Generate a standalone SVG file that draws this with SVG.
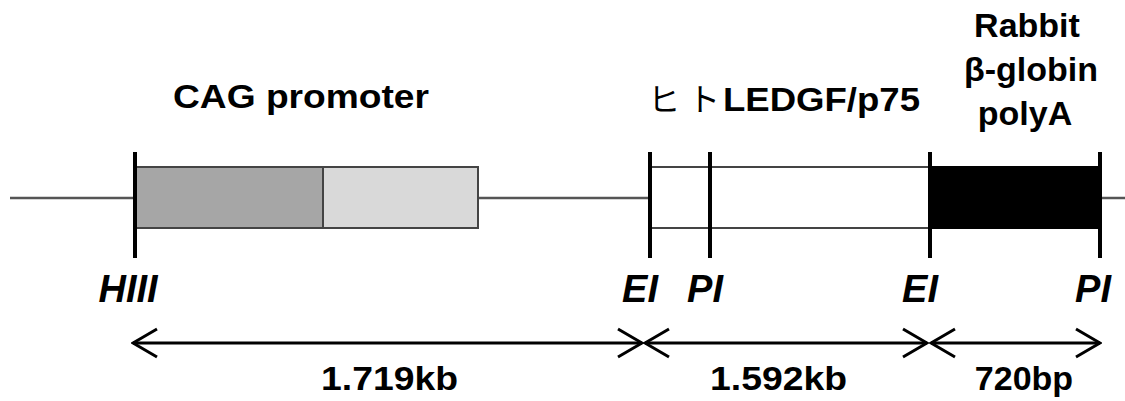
<svg xmlns="http://www.w3.org/2000/svg" width="1125" height="401" viewBox="0 0 1125 401">
<style>
.lbl{font-family:"Liberation Sans",Arial,sans-serif;font-weight:bold;font-size:34px;fill:#000}
.site{font-family:"Liberation Sans",Arial,sans-serif;font-weight:bold;font-style:italic;font-size:38px;fill:#000}
.jp{font-family:"Noto Sans CJK JP",sans-serif;font-weight:normal;font-size:32px;fill:#000}
.tick{stroke:#000;stroke-width:4}
.bb{stroke:#555;stroke-width:2.5;fill:none}
.box{stroke:#444;stroke-width:2}
.dim{stroke:#000;stroke-width:3;fill:none}
</style>
<defs>
<marker id="chev" viewBox="-30 -16 32 32" markerWidth="32" markerHeight="32" refX="0" refY="0" orient="auto-start-reverse" markerUnits="userSpaceOnUse">
<path d="M -24 -14 L 0 0 L -24 14" fill="none" stroke="#000" stroke-width="3"/>
</marker>
</defs>
<g id="backbone">
<line class="bb" x1="10" y1="198" x2="135" y2="198"/>
<line class="bb" x1="478" y1="198" x2="650" y2="198"/>
<line class="bb" x1="1100" y1="198" x2="1125" y2="198"/>
</g>
<g id="cag">
<rect class="box" x="135" y="167" width="188" height="61" fill="#a6a6a6"/>
<rect class="box" x="323" y="167" width="155" height="61" fill="#d9d9d9"/>
<text class="lbl" x="173" y="108" textLength="256" lengthAdjust="spacingAndGlyphs">CAG promoter</text>
</g>
<g id="ledgf">
<rect class="box" x="650" y="167" width="280" height="61" fill="#fff"/>
<text y="111"><tspan class="jp" x="648">ヒ</tspan><tspan class="jp" x="688">ト</tspan><tspan class="lbl" x="723" textLength="197" lengthAdjust="spacingAndGlyphs">LEDGF/p75</tspan></text>
</g>
<g id="polyA">
<rect x="930" y="167" width="170" height="61" fill="#000" stroke="#000" stroke-width="2"/>
<text class="lbl" text-anchor="middle"><tspan x="1027" y="37">Rabbit</tspan><tspan x="1031" y="81">β-globin</tspan><tspan x="1025" y="125">polyA</tspan></text>
</g>
<g id="sites">
<line class="tick" x1="135" y1="152" x2="135" y2="258"/>
<line class="tick" x1="650" y1="152" x2="650" y2="258"/>
<line class="tick" x1="710" y1="152" x2="710" y2="258"/>
<line class="tick" x1="930" y1="152" x2="930" y2="258"/>
<line class="tick" x1="1100" y1="152" x2="1100" y2="258"/>
<text class="site" x="128" y="302" text-anchor="middle">HIII</text>
<text class="site" x="640" y="302" text-anchor="middle">EI</text>
<text class="site" x="705" y="302" text-anchor="middle">PI</text>
<text class="site" x="920" y="302" text-anchor="middle">EI</text>
<text class="site" x="1093" y="302" text-anchor="middle">PI</text>
</g>
<g id="connectors">
<line class="dim" x1="133" y1="343" x2="642" y2="343" marker-start="url(#chev)" marker-end="url(#chev)"/>
<line class="dim" x1="645" y1="343" x2="927" y2="343" marker-start="url(#chev)" marker-end="url(#chev)"/>
<line class="dim" x1="931" y1="343" x2="1100" y2="343" marker-start="url(#chev)" marker-end="url(#chev)"/>
</g>
<g id="sizes">
<text class="lbl" x="321" y="390" textLength="137" lengthAdjust="spacingAndGlyphs">1.719kb</text>
<text class="lbl" x="710" y="390" textLength="137" lengthAdjust="spacingAndGlyphs">1.592kb</text>
<text class="lbl" x="1024" y="390" text-anchor="middle">720bp</text>
</g>
</svg>
